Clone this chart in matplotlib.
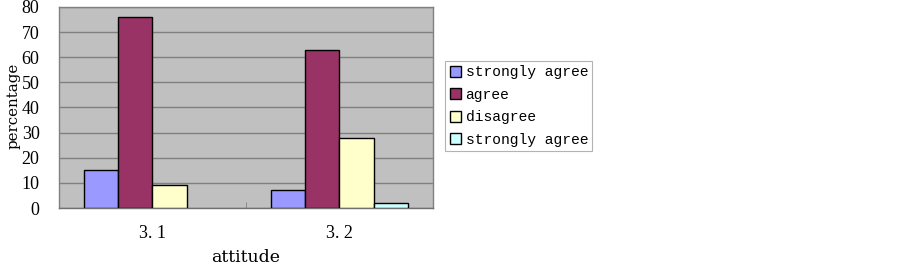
import matplotlib
matplotlib.use("Agg")
import matplotlib.pyplot as plt
from matplotlib.patches import Patch
import numpy as np

categories = ["3.1", "3.2"]
series_names = ["strongly agree", "agree", "disagree", "strongly agree"]
values = [
    [15, 7],
    [76, 63],
    [9, 28],
    [0, 2],
]
colors = ["#9999FF", "#993366", "#FFFFCC", "#CCFFFF"]
yticks = [0, 10, 20, 30, 40, 50, 60, 70, 80]

fig = plt.figure(figsize=(9.03, 2.66), dpi=100)
ax = fig.add_axes([0.0653, 0.218, 0.4142, 0.756])
ax.set_facecolor("#C0C0C0")

x = np.arange(len(categories))
w = 0.182
for i, (name, vals, c) in enumerate(zip(series_names, values, colors)):
    bars = ax.bar(x + (i - 1.5) * w, vals, width=w, color=c, edgecolor="black",
                  linewidth=1.0, zorder=3)
    for b, v in zip(bars, vals):
        if v == 0:
            b.set_visible(False)

ax.set_xlim(-0.5, 1.5)
ax.set_ylim(0, 80)
ax.set_yticks(yticks)
ax.set_yticklabels([str(t) for t in yticks], fontfamily="Liberation Serif", fontsize=13)
ax.yaxis.grid(True, color="#808080", linewidth=1.0, zorder=0)
ax.tick_params(axis="y", length=0, pad=14)
ax.set_xticks(x)
ax.set_xticklabels(["3. 1", "3. 2"], fontfamily="Liberation Serif", fontsize=13)
ax.tick_params(axis="x", length=0, pad=12)
ax.set_xticks([0.5], minor=True)
ax.tick_params(axis="x", which="minor", direction="in", length=4, color="#808080")
for s in ax.spines.values():
    s.set_color("#808080")
    s.set_linewidth(1.0)
ax.spines["bottom"].set_color("#707070")

ax.set_ylabel("percentage", fontfamily="DejaVu Serif", fontsize=10.8)
ax.yaxis.set_label_coords(-0.102, 0.51)
ax.set_xlabel("attitude", fontfamily="DejaVu Serif", fontsize=12.5, labelpad=5)

handles = [Patch(facecolor=c, edgecolor="black", linewidth=1.0) for c in colors]
leg = fig.legend(handles, series_names, loc="upper left", bbox_to_anchor=(0.493, 0.771),
                 prop={"family": "Liberation Mono", "size": 10.5},
                 frameon=True, fancybox=False, edgecolor="#A0A0A0",
                 handlelength=0.8, handleheight=0.8, handletextpad=0.3,
                 labelspacing=0.58, borderpad=0.3, borderaxespad=0)
leg.get_frame().set_linewidth(0.8)

fig.savefig("out.png", dpi=100)
